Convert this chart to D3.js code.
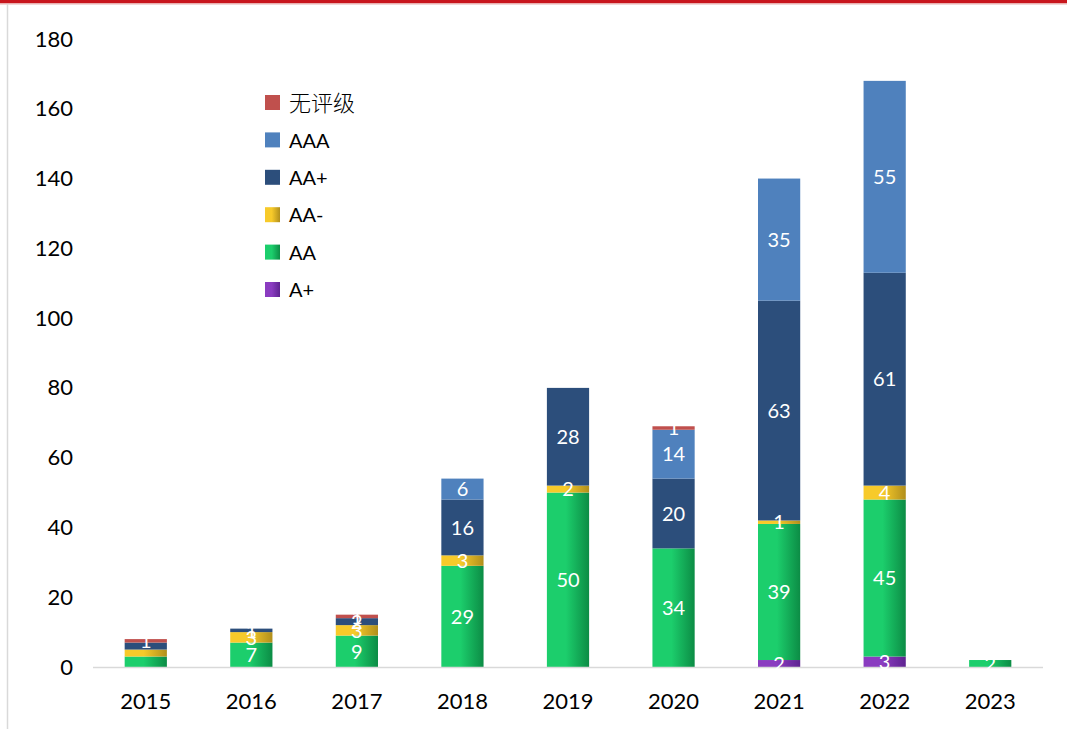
<!DOCTYPE html>
<html><head><meta charset="utf-8">
<script src="https://cdn.jsdelivr.net/npm/d3@7"></script>
<style>
html,body{margin:0;padding:0;background:#fff;}
svg{display:block;}
text{font-family:Lato,"Open Sans","Noto Sans",sans-serif;}
</style></head>
<body>
<svg id="chart" width="1067" height="729"></svg>
<script>
const years = ["2015","2016","2017","2018","2019","2020","2021","2022","2023"];
const seriesNames = ["A+","AA","AA-","AA+","AAA","无评级"];
const valAplus  = [0,0,0,0,0,0,2,3,0];
const valAA     = [3,7,9,29,50,34,39,45,2];
const valAAminus= [2,3,3,3,2,0,1,4,0];
const valAAplus = [2,1,2,16,28,20,63,61,0];
const valAAA    = [0,0,0,6,0,14,35,55,0];
const valNone   = [1,0,1,0,0,1,0,0,0];
const yTicks = [0,20,40,60,80,100,120,140,160,180];
const hiddenLabels = ["2015|AA","2015|AA-","2015|AA+"];
const legendOrder = ["无评级","AAA","AA+","AA-","AA","A+"];

const values = {"A+":valAplus,"AA":valAA,"AA-":valAAminus,"AA+":valAAplus,"AAA":valAAA,"无评级":valNone};
const colors = {
  "A+":["#8a3cc0","#5e2390"],
  "AA":["#1cce6c","#0c8c45"],
  "AA-":["#f7ca2a","#b18f1c"],
  "AA+":["#2c4e7b","#2c4e7b"],
  "AAA":["#4f81bd","#4f81bd"],
  "无评级":["#c0504d","#c0504d"]
};

const svg = d3.select("#chart");
const defs = svg.append("defs");
seriesNames.forEach((s,i)=>{
  const g = defs.append("linearGradient").attr("id","g"+i).attr("x1","0%").attr("x2","100%").attr("y1","0%").attr("y2","0%");
  g.append("stop").attr("offset","0%").attr("stop-color",colors[s][0]);
  g.append("stop").attr("offset","45%").attr("stop-color",colors[s][0]);
  g.append("stop").attr("offset","100%").attr("stop-color",colors[s][1]);
});

// frame
svg.append("rect").attr("x",0).attr("y",0).attr("width",1067).attr("height",3).attr("fill","#c8161d");
svg.append("rect").attr("x",0).attr("y",3).attr("width",1067).attr("height",1.5).attr("fill","#e8b0b0");
svg.append("line").attr("x1",7.5).attr("x2",7.5).attr("y1",4).attr("y2",729).attr("stroke","#d9d9d9").attr("stroke-width",1.5);

const x = d3.scaleBand().domain(years).range([93,1043]).paddingInner(0.6).paddingOuter(0.3);
const y = d3.scaleLinear().domain([0,180]).range([667,39]);

// y axis labels
const yAxis = d3.axisLeft(y).tickValues(yTicks).tickSize(0).tickPadding(0);
const ya = svg.append("g").attr("transform","translate(73,0)").call(yAxis);
ya.select(".domain").remove();
ya.selectAll("text").attr("font-size",22).attr("fill","#000").style("font-family","Lato,'Open Sans',sans-serif");

// stacks
const table = years.map((yr,i)=>{const o={year:yr}; seriesNames.forEach(s=>o[s]=values[s][i]); return o;});
const stack = d3.stack().keys(seriesNames)(table);

const gBars = svg.append("g");
stack.forEach((layer,li)=>{
  gBars.selectAll(null).data(layer.filter(d=>d[1]-d[0]>0)).enter().append("rect")
    .attr("x",d=>x(d.data.year)).attr("width",x.bandwidth())
    .attr("y",d=>y(d[1])).attr("height",d=>y(d[0])-y(d[1]))
    .attr("fill","url(#g"+li+")");
});

// baseline
svg.append("line").attr("x1",93).attr("x2",1043).attr("y1",667.5).attr("y2",667.5).attr("stroke","#d9d9d9").attr("stroke-width",1.5);

// labels
const gLab = svg.append("g");
stack.forEach((layer,li)=>{
  const key = layer.key;
  gLab.selectAll(null).data(layer.filter(d=>d[1]-d[0]>0 && !hiddenLabels.includes(d.data.year+"|"+key))).enter().append("text")
    .attr("x",d=>x(d.data.year)+x.bandwidth()/2)
    .attr("y",d=>(y(d[0])+y(d[1]))/2)
    .attr("dy","0.36em").attr("text-anchor","middle")
    .attr("font-size",20).attr("fill","#fff")
    .text(d=>d[1]-d[0]);
});

// x axis labels
const xAxis = d3.axisBottom(x).tickSize(0).tickPadding(0);
const xa = svg.append("g").attr("transform","translate(0,701)").call(xAxis);
xa.select(".domain").remove();
xa.selectAll("text").attr("y",0).attr("dy","0.36em").attr("font-size",22).attr("fill","#000").style("font-family","Lato,'Open Sans',sans-serif");

// legend
const leg = svg.append("g");
legendOrder.forEach((s,i)=>{
  const li = seriesNames.indexOf(s);
  const yy = 103 + i*37.4;
  leg.append("rect").attr("x",265).attr("y",yy-8).attr("width",15).attr("height",15).attr("fill","url(#g"+li+")");
  const cjk = s==="无评级";
  leg.append("text").attr("x",289).attr("y",yy).attr("dy","0.36em").attr("font-size",cjk?22:20).attr("fill","#000")
    .style("font-family", cjk ? "'Noto Sans CJK SC',sans-serif" : "Lato,'Open Sans',sans-serif")
    .style("font-weight", cjk ? 300 : 400)
    .text(s);
});
</script>
</body></html>
